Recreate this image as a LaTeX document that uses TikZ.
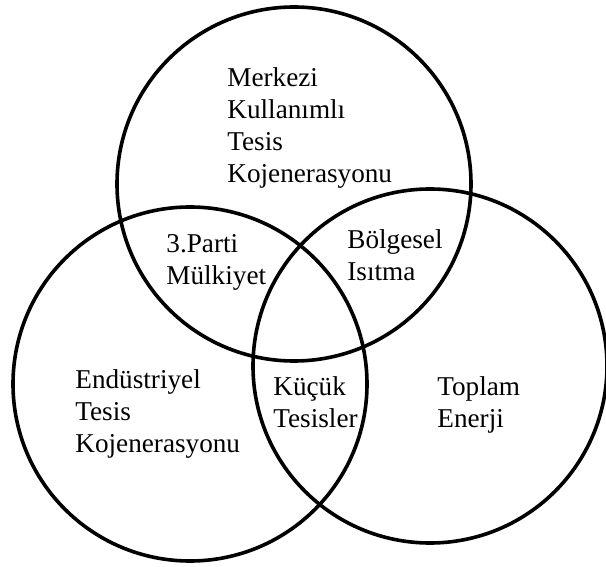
\documentclass[tikz,border=0pt]{standalone}
\usepackage{fontspec}
\setmainfont{Liberation Serif}

\begin{document}
\begin{tikzpicture}[
  x=0.5pt,y=-0.5pt,
  ring/.style={draw,circle,line width=1.8pt,minimum size=177pt,inner sep=0pt},
  lab/.style={align=left,anchor=base west,inner sep=0pt,font=\fontsize{13.6}{16}\selectfont}
]
\useasboundingbox (0,0) rectangle (606,567);
\node[ring] (chp) at (294,184) {};
\node[ring] (ind) at (190,384) {};
\node[ring] (tot) at (430,366) {};
% anchors sit on the baseline of the last line
\node[lab] (chptxt) at (227,183) {Merkezi\\Kullanımlı\\Tesis\\Kojenerasyonu};
\node[lab] (owner) at (166,285) {3.Parti\\Mülkiyet};
\node[lab] (heat) at (347,280) {Bölgesel\\Isıtma};
\node[lab] (small) at (273,427) {Küçük\\Tesisler};
\node[lab] (indtxt) at (75,452) {Endüstriyel\\Tesis\\Kojenerasyonu};
\node[lab] (tottxt) at (437,427) {Toplam\\Enerji};
\end{tikzpicture}
\end{document}
